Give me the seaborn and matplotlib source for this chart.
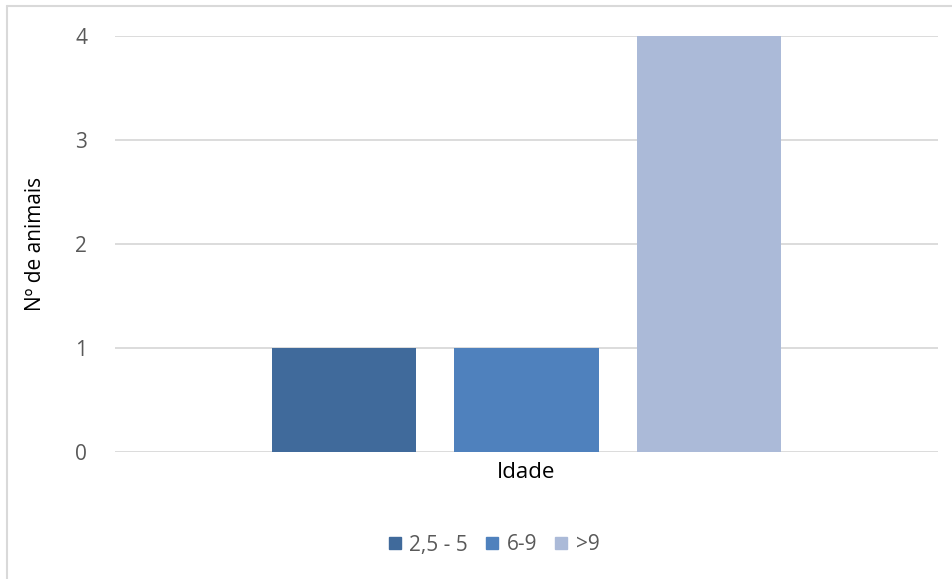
import matplotlib
matplotlib.use("Agg")
import matplotlib.pyplot as plt
import matplotlib.lines as mlines
import seaborn as sns
import pandas as pd

# Data
categories = ["Idade"]
series = ["2,5 - 5", "6-9", ">9"]
values = [1, 1, 4]
colors = ["#406a9b", "#4f81bd", "#abbad8"]
y_ticks = [0, 1, 2, 3, 4]

df = pd.DataFrame({"cat": categories * len(series), "serie": series, "valor": values})

sns.set_theme(style="white")
plt.rcParams["font.family"] = ["Open Sans", "DejaVu Sans"]

fig = plt.figure(figsize=(9.53, 5.79), dpi=100)
ax = fig.add_axes([115 / 953, 1 - 452 / 579, (938 - 115) / 953, (452 - 36) / 579])

sns.barplot(data=df, x="cat", y="valor", hue="serie", hue_order=series,
            palette=colors, width=0.667, gap=0.213, saturation=1,
            ax=ax, legend=False, errorbar=None, linewidth=0)

ax.set_xlim(-0.5, 0.5)
ax.set_ylim(0, 4)
ax.set_yticks(y_ticks)
ax.yaxis.grid(True, color="#d9d9d9", linewidth=1.3)
ax.set_axisbelow(True)
for s in ax.spines.values():
    s.set_visible(False)
ax.tick_params(axis="both", length=0)
ax.tick_params(axis="y", labelcolor="#595959", labelsize=15, pad=20)
ax.tick_params(axis="x", labelcolor="#000000", labelsize=16, pad=7)
ax.set_xlabel("")
ax.set_ylabel("Nº de animais", fontsize=15, color="#000000", labelpad=21)

handles = [mlines.Line2D([], [], marker="s", linestyle="none", markersize=9,
                         markerfacecolor=c, markeredgecolor=c, label=l)
           for c, l in zip(colors, series)]
leg = fig.legend(handles=handles, loc="center", bbox_to_anchor=(493 / 953, 1 - 545 / 579),
                 ncol=3, frameon=False, fontsize=15, handletextpad=0.3,
                 columnspacing=0.75, handlelength=0.8)
for t in leg.get_texts():
    t.set_color("#595959")

# chart border (Excel-style)
fig.add_artist(mlines.Line2D([7 / 953, 7 / 953], [0, 1 - 6 / 579], color="#d9d9d9", lw=1.5))
fig.add_artist(mlines.Line2D([7 / 953, 1], [1 - 6 / 579, 1 - 6 / 579], color="#d9d9d9", lw=1.5))

fig.savefig("out.png", dpi=100, facecolor="white")
